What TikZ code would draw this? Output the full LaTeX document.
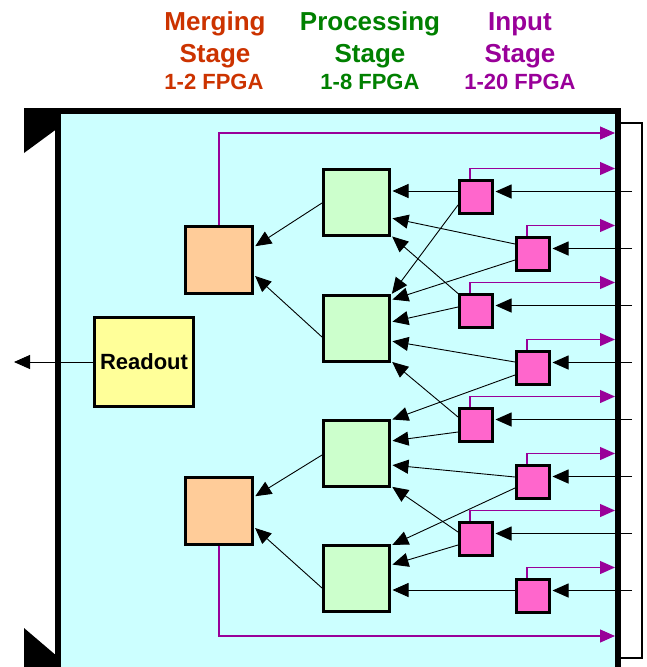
\documentclass[tikz,border=0pt]{standalone}
\usepackage{fontspec}
\setmainfont{Liberation Sans}
\usetikzlibrary{positioning}
\usetikzlibrary{calc, arrows.meta}

\definecolor{boardcyan}{RGB}{204,255,255}
\definecolor{procgreen}{RGB}{204,255,204}
\definecolor{mergeorange}{RGB}{255,204,153}
\definecolor{readyellow}{RGB}{255,255,153}
\definecolor{inpink}{RGB}{255,102,204}
\definecolor{linkpurple}{RGB}{153,0,153}
\definecolor{mergetext}{RGB}{204,51,0}
\definecolor{proctext}{RGB}{0,128,0}

\begin{document}
\begin{tikzpicture}[x=1pt, y=-1pt,
    fpga/.style={draw, line width=3pt, inner sep=0pt},
    procbox/.style={fpga, fill=procgreen, minimum size=66pt},
    mergebox/.style={fpga, fill=mergeorange, minimum size=67pt},
    inbox/.style={fpga, fill=inpink, minimum size=33pt},
    sig/.style={line width=0.9pt, -{Triangle[length=16pt,width=14pt]}, shorten >=1.5pt},
    outsig/.style={linkpurple, line width=1.2pt, -{Triangle[length=15pt,width=13pt]}},
    head/.style={anchor=base, font=\bfseries\fontsize{26}{30}\selectfont},
    count/.style={anchor=base, font=\bfseries\fontsize{22}{26}\selectfont}]
        \clip (0,0) rectangle (646,667);
        \fill[white] (0,0) rectangle (646,667);

        % Stage titles
        \node[head, text=mergetext] (mergehead) at (215,30) {Merging};
        \node[head, text=mergetext] (mergestage) at (215,62) {Stage};
        \node[count, text=mergetext] (mergecount) at (214,89) {1-2 FPGA};
        \node[head, text=proctext] (prochead) at (370,30) {Processing};
        \node[head, text=proctext] (procstage) at (370,62) {Stage};
        \node[count, text=proctext] (proccount) at (370,89) {1-8 FPGA};
        \node[head, text=linkpurple] (inhead) at (520,30) {Input};
        \node[head, text=linkpurple] (instage) at (520,62) {Stage};
        \node[count, text=linkpurple] (incount) at (520,89) {1-20 FPGA};

        % Board, connector and corner latches
        \draw[line width=2pt, fill=white] (600,123) rectangle (642,658);
        \draw[line width=6pt, fill=boardcyan] (58,110.5) rectangle (618,700);
        \fill (24,108) -- (58,108) -- (58,128) -- (24,153) -- cycle;
        \fill (24,628) -- (58,657) -- (58,667) -- (24,667) -- cycle;

        % Readout
        \node[fpga, fill=readyellow, minimum width=99pt, minimum height=89pt,
              font=\bfseries\fontsize{22}{26}\selectfont] (readout) at (144,362) {Readout};
        \coordinate (readoutend) at (14,362);
        \draw[sig, shorten >=0pt] (readout.west) -- (readoutend);

        % Merging stage
        \node[mergebox] (m1) at (219,259.5) {};
        \node[mergebox] (m2) at (219,510.5) {};
        \coordinate (mtop) at (615,133);
        \coordinate (mbot) at (615,636);
        \draw[outsig] (m1.north) |- (mtop);
        \draw[outsig] (m2.south) |- (mbot);

        % Processing stage
        \node[procbox] (g1) at (356.5,202.5) {};
        \node[procbox] (g2) at (356.5,328) {};
        \node[procbox] (g3) at (356.5,453) {};
        \node[procbox] (g4) at (356.5,578.5) {};
        \draw[sig] ($(g1.west)+(0,0.5)$) -- ($(m1.east)+(0,-12.5)$);
        \draw[sig] ($(g2.west)+(0,9)$) -- ($(m1.east)+(0,15.5)$);
        \draw[sig] ($(g3.west)+(0,2)$) -- ($(m2.east)+(0,-13.5)$);
        \draw[sig] ($(g4.west)+(0,9.5)$) -- ($(m2.east)+(0,16.5)$);

        % Input stage
        \foreach \i in {1,...,8} {
            \pgfmathsetmacro{\px}{mod(\i,2)==1 ? 476 : 533}
            \pgfmathsetmacro{\py}{196.5+57*(\i-1)}
            \node[inbox] (p\i) at (\px,\py) {};
            \coordinate (in\i) at (632,\py-5);
            \coordinate (out\i) at (615,\py-28);
            \draw[sig] (in\i) -- (in\i -| p\i.east);
            \draw[outsig] ($(p\i.north)+(-6,0)$) |- (out\i);
        }
        \foreach \s/\so/\g/\go in {1/-5.5/1/-11.5, 1/8.5/2/-33, 2/-9.5/1/15.5, 2/6.5/2/-28,
                3/-17/1/33, 3/-3.5/2/-6, 4/-5.5/2/13, 4/7.5/3/-33, 5/-7.5/2/33, 5/7.5/3/-12,
                6/-4.5/3/12, 6/6.5/4/-33, 7/-6.5/3/33, 7/6.5/4/-13.5, 8/-5.5/4/11.5}
            \draw[sig] ($(p\s.west)+(0,\so)$) -- ($(g\g.east)+(0,\go)$);
\end{tikzpicture}
\end{document}
